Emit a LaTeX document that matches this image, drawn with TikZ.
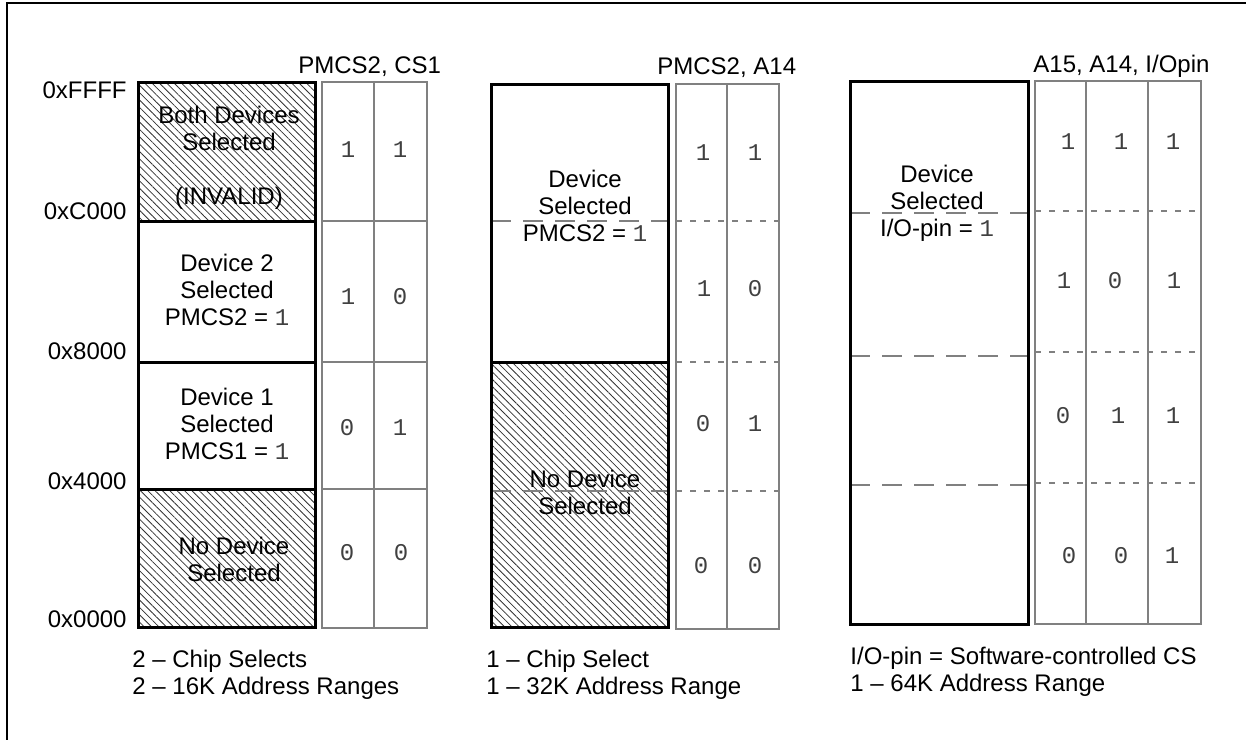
\documentclass[tikz,border=0pt]{standalone}
\usepackage{fontspec}
\setmainfont{Liberation Sans}
\setmonofont{Liberation Mono}
\usepackage{tikz}
\usetikzlibrary{patterns.meta}
\definecolor{gridgrey}{rgb}{0.5, 0.5, 0.5}
\definecolor{bitgrey}{rgb}{0.25, 0.25, 0.25}

\begin{document}
\begin{tikzpicture}[x=0.5pt, y=-0.5pt,
	block/.style={draw=black, line width=1.5pt},
	hatch/.style={pattern={Lines[angle=-45, distance=2.6pt, line width=0.4pt]}, pattern color=black!80},
	tabgrid/.style={draw=gridgrey, line width=1pt},
	rowdots/.style={draw=gridgrey, line width=1pt, dash pattern=on 3pt off 4pt},
	rowdash/.style={draw=gridgrey, line width=1pt, dash pattern=on 10pt off 6pt},
	txt/.style={font=\fontsize{12}{13.5}\selectfont, align=center, inner sep=0pt},
	addr/.style={txt, anchor=base east},
	head/.style={txt, anchor=base west},
	bit/.style={font=\fontsize{12}{13.5}\selectfont\ttfamily, text=bitgrey, inner sep=0pt},
	note/.style={txt, align=left, anchor=north west}]

	\useasboundingbox (0,0) rectangle (1246,740);
	% frame (only top and left show)
	\draw[line width=1.2pt] (1246,3) -- (7,3) -- (7,740);

	% ---- two chip selects ----
	\path[hatch] (138,82) rectangle (315,221);
	\path[hatch] (138,489) rectangle (315,627);
	\draw[block] (138,82) rectangle (315,627);
	\foreach \y in {221,362,489} \draw[block] (138,\y) -- (315,\y);

	\draw[tabgrid] (322,82) rectangle (427,628);
	\draw[tabgrid] (374,82) -- (374,628);
	\foreach \y in {221,362,489} \draw[tabgrid] (322,\y) -- (427,\y);

	\node[addr] (ffffL) at (127,98) {0xFFFF};
	\node[addr] (c000L) at (127,219) {0xC000};
	\node[addr] (8000L) at (127,359) {0x8000};
	\node[addr] (4000L) at (127,489) {0x4000};
	\node[addr] (0000L) at (127,627) {0x0000};

	\node[head] (headL) at (298,73) {PMCS2, CS1};

	\node[txt] (bothL) at (229,158) {Both Devices\\Selected\\[13.5pt](INVALID)};
	\node[txt] (dev2L) at (227,290) {Device 2\\Selected\\PMCS2 = \textcolor{bitgrey}{\texttt{1}}};
	\node[txt] (dev1L) at (227,424) {Device 1\\Selected\\PMCS1 = \textcolor{bitgrey}{\texttt{1}}};
	\node[txt] (noneL) at (234,559) {No Device\\Selected};

	\foreach \x/\y/\b [count=\i] in {348/150/1, 400/150/1, 348/297/1, 400/297/0,
			347/428/0, 400/428/1, 347/553/0, 401/553/0}
		\node[bit] (bitL\i) at (\x,\y) {\b};

	\node[note] (capL) at (132,650) {2 -- Chip Selects\\2 -- 16K Address Ranges};

	% ---- one chip select ----
	\path[hatch] (491,362) rectangle (668,627);
	\draw[rowdash] (491,221) -- (668,221);
	\draw[rowdash] (491,491) -- (668,491);
	\draw[block] (491,84) rectangle (668,627);
	\draw[block] (491,362) -- (668,362);

	\draw[tabgrid] (676,84) rectangle (779,629);
	\draw[tabgrid] (727,84) -- (727,629);
	\foreach \y in {221,362,491} \draw[rowdots] (676,\y) -- (779,\y);

	\node[head] (headM) at (657,74) {PMCS2, A14};

	\node[txt] (devM) at (585,206) {Device\\Selected\\PMCS2 = \textcolor{bitgrey}{\texttt{1}}};
	\node[txt] (noneM) at (585,492) {No Device\\Selected};

	\foreach \x/\y/\b [count=\i] in {703/153/1, 755/153/1, 704/289/1, 755/289/0,
			703/424/0, 755/424/1, 701/566/0, 755/566/0}
		\node[bit] (bitM\i) at (\x,\y) {\b};

	\node[note] (capM) at (486,650) {1 -- Chip Select\\1 -- 32K Address Range};

	% ---- software CS ----
	\foreach \y in {213,356,485} \draw[rowdash] (850,\y) -- (1028,\y);
	\draw[block] (850,81) rectangle (1028,624);

	\draw[tabgrid] (1035,81) rectangle (1201,624);
	\foreach \x in {1086,1148} \draw[tabgrid] (\x,81) -- (\x,624);
	\foreach \y in {211,352,483} \draw[rowdots] (1035,\y) -- (1201,\y);

	\node[head] (headR) at (1033,72) {A15, A14, I/Opin};

	\node[txt] (devR) at (937,203) {Device\\Selected\\I/O-pin = \textcolor{bitgrey}{\texttt{1}}};

	\foreach \x/\y/\b [count=\i] in {1068/142/1, 1121/142/1, 1173/142/1,
			1064/281/1, 1115/281/0, 1174/281/1,
			1063/416/0, 1118/416/1, 1173/416/1,
			1069/556/0, 1121/556/0, 1172/556/1}
		\node[bit] (bitR\i) at (\x,\y) {\b};

	\node[note] (capR) at (850,647) {I/O-pin = Software-controlled CS\\1 -- 64K Address Range};

\end{tikzpicture}
\end{document}
